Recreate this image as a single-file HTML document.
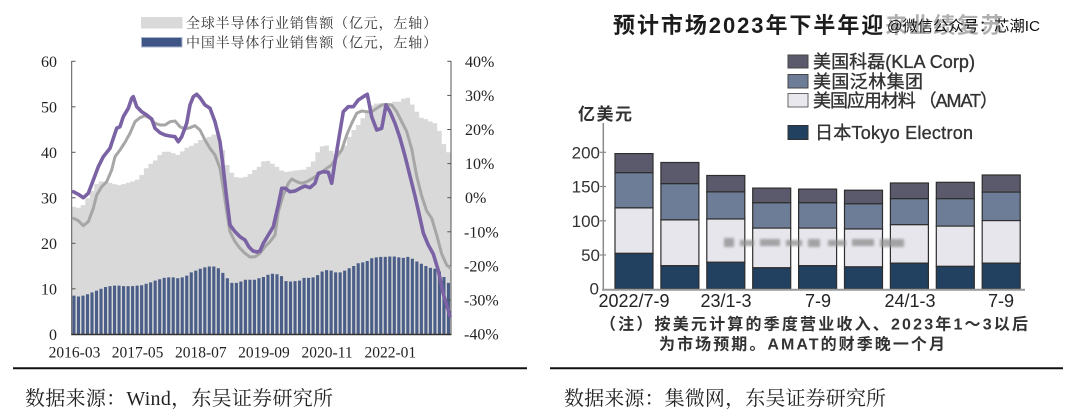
<!DOCTYPE html>
<html>
<head>
<meta charset="utf-8">
<style>
html,body{margin:0;padding:0;background:#fff;}
svg{display:block}
</style>
</head>
<body>
<svg width="1080" height="416" viewBox="0 0 1080 416" xmlns="http://www.w3.org/2000/svg">
<defs>
<filter id="soft" x="-5%" y="-5%" width="110%" height="110%"><feGaussianBlur stdDeviation="0.35"/></filter>
<filter id="blur2" x="-10%" y="-50%" width="120%" height="200%"><feGaussianBlur stdDeviation="1.2"/></filter>
</defs>
<rect x="0" y="0" width="1080" height="416" fill="#fff"/>

<!-- ================= LEFT CHART ================= -->
<g font-family="'Liberation Serif','Noto Serif CJK SC',serif">
<!-- legend -->
<rect x="141" y="17" width="41.5" height="11.5" fill="#d9d9d9"/>
<rect x="141.5" y="37.5" width="40.5" height="9.5" fill="#3e5586" stroke="#a9b5cc" stroke-width="1"/>
<text x="186" y="28" font-size="14" textLength="251" lengthAdjust="spacing" fill="#333">全球半导体行业销售额（亿元，左轴）</text>
<text x="186" y="47.5" font-size="14" textLength="251" lengthAdjust="spacing" fill="#333">中国半导体行业销售额（亿元，左轴）</text>

<!-- global area -->
<path fill="#d9d9d9" d="M71.7,334.3 V206.9 H76.21 V207.8 H80.72 V205.1 H85.24 V198.3 H89.75 V191 H94.26 V184.1 H98.77 V181.4 H103.28 V181.9 H107.8 V182.8 H112.31 V184.1 H116.82 V185.1 H121.33 V184.1 H125.84 V182.8 H130.36 V181.4 H134.87 V179.6 H139.38 V175 H143.89 V168.2 H148.4 V163.7 H152.92 V160.5 H157.43 V155 H161.94 V151.8 H166.45 V151.8 H170.96 V153.2 H175.48 V155 H179.99 V151.4 H184.5 V147.7 H189.01 V145.9 H193.52 V143.2 H198.04 V140 H202.55 V138.2 H207.06 V136.8 H211.57 V134.6 H216.08 V135 H220.6 V150 H225.11 V165 H229.62 V172.8 H234.13 V177.3 H238.64 V177.8 H243.16 V176.9 H247.67 V174.1 H252.18 V170 H256.69 V166.9 H261.2 V161.4 H265.72 V160.9 H270.23 V163.7 H274.74 V166.9 H279.25 V170.5 H283.76 V171.9 H288.28 V171.4 H292.79 V170.5 H297.3 V170 H301.81 V169.6 H306.32 V166.9 H310.84 V161.4 H315.35 V152.3 H319.86 V146.4 H324.37 V145.5 H328.88 V150.9 H333.4 V154.1 H337.91 V150 H342.42 V145.5 H346.93 V136.8 H351.44 V130 H355.96 V125 H360.47 V118.2 H364.98 V111.3 H369.49 V105.4 H374 V103.6 H378.52 V103.2 H383.03 V103.2 H387.54 V103.2 H392.05 V101.8 H396.56 V101.8 H401.08 V98.6 H405.59 V97.7 H410.1 V104.5 H414.61 V111.8 H419.12 V117.7 H423.64 V119.1 H428.15 V121.4 H432.66 V123.2 H437.17 V130.9 H441.68 V144.1 H446.2 V152.3 H450.71 V334.3 Z"/>

<!-- china bars -->
<path fill="#4a5e88" d="M72.4,334.3
v-38.7h3.1v38.7m1.412,0 v-37.8h3.1v37.8m1.412,0 v-38.7h3.1v38.7m1.412,0 v-40h3.1v40m1.412,0 v-41.9h3.1v41.9m1.412,0
v-43.7h3.1v43.7m1.412,0 v-45.5h3.1v45.5m1.412,0 v-47.3h3.1v47.3m1.412,0 v-48.2h3.1v48.2m1.412,0 v-48.7h3.1v48.7m1.412,0
v-48.7h3.1v48.7m1.412,0 v-48.2h3.1v48.2m1.412,0 v-48.2h3.1v48.2m1.412,0 v-48.2h3.1v48.2m1.412,0 v-48.7h3.1v48.7m1.412,0
v-49.1h3.1v49.1m1.412,0 v-50.5h3.1v50.5m1.412,0 v-51.9h3.1v51.9m1.412,0 v-53.7h3.1v53.7m1.412,0 v-55.1h3.1v55.1m1.412,0
v-56.4h3.1v56.4m1.412,0 v-56.9h3.1v56.9m1.412,0 v-56.9h3.1v56.9m1.412,0 v-56h3.1v56m1.412,0 v-56.9h3.1v56.9m1.412,0
v-58.7h3.1v58.7m1.412,0 v-61.9h3.1v61.9m1.412,0 v-63.7h3.1v63.7m1.412,0 v-65.5h3.1v65.5m1.412,0 v-66.9h3.1v66.9m1.412,0
v-67.8h3.1v67.8m1.412,0 v-67.8h3.1v67.8m1.412,0 v-66h3.1v66m1.412,0 v-61.4h3.1v61.4m1.412,0 v-56h3.1v56m1.412,0
v-51.4h3.1v51.4m1.412,0 v-51.4h3.1v51.4m1.412,0 v-52.8h3.1v52.8m1.412,0 v-54.6h3.1v54.6m1.412,0 v-54.6h3.1v54.6m1.412,0
v-54.6h3.1v54.6m1.412,0 v-56h3.1v56m1.412,0 v-57.3h3.1v57.3m1.412,0 v-59.6h3.1v59.6m1.412,0 v-60.5h3.1v60.5m1.412,0
v-60.1h3.1v60.1m1.412,0 v-58.2h3.1v58.2m1.412,0 v-53.2h3.1v53.2m1.412,0 v-52.8h3.1v52.8m1.412,0 v-53.2h3.1v53.2m1.412,0
v-53.7h3.1v53.7m1.412,0 v-56.4h3.1v56.4m1.412,0 v-56.4h3.1v56.4m1.412,0 v-56.9h3.1v56.9m1.412,0 v-59.2h3.1v59.2m1.412,0
v-62.8h3.1v62.8m1.412,0 v-64.2h3.1v64.2m1.412,0 v-63.7h3.1v63.7m1.412,0 v-61.9h3.1v61.9m1.412,0 v-61.9h3.1v61.9m1.412,0
v-63.7h3.1v63.7m1.412,0 v-66h3.1v66m1.412,0 v-68.3h3.1v68.3m1.412,0 v-71h3.1v71m1.412,0 v-71.9h3.1v71.9m1.412,0
v-73.3h3.1v73.3m1.412,0 v-76h3.1v76m1.412,0 v-76.9h3.1v76.9m1.412,0 v-77.4h3.1v77.4m1.412,0 v-77.4h3.1v77.4m1.412,0
v-77.8h3.1v77.8m1.412,0 v-77.8h3.1v77.8m1.412,0 v-76.9h3.1v76.9m1.412,0 v-76.4h3.1v76.4m1.412,0 v-77.4h3.1v77.4m1.412,0
v-75.5h3.1v75.5m1.412,0 v-72.8h3.1v72.8m1.412,0 v-70.5h3.1v70.5m1.412,0 v-68.3h3.1v68.3m1.412,0 v-66.4h3.1v66.4m1.412,0
v-65.5h3.1v65.5m1.412,0 v-62.8h3.1v62.8m1.412,0 v-57.3h3.1v57.3m1.412,0 v-51.4h3.1v51.4"/>

<!-- axes -->
<line x1="71.7" y1="61" x2="71.7" y2="334.3" stroke="#555" stroke-width="1"/>
<line x1="451" y1="61" x2="451" y2="334.3" stroke="#555" stroke-width="1"/>
<line x1="71.2" y1="334.5" x2="451.5" y2="334.5" stroke="#333" stroke-width="1.6"/>
<g stroke="#555" stroke-width="1">
<line x1="71.7" y1="61.3" x2="75.5" y2="61.3"/>
<line x1="71.7" y1="106.8" x2="75.5" y2="106.8"/>
<line x1="71.7" y1="152.3" x2="75.5" y2="152.3"/>
<line x1="71.7" y1="197.8" x2="75.5" y2="197.8"/>
<line x1="71.7" y1="243.3" x2="75.5" y2="243.3"/>
<line x1="71.7" y1="288.8" x2="75.5" y2="288.8"/>
<line x1="447.3" y1="61.3" x2="451" y2="61.3"/>
<line x1="447.3" y1="95.4" x2="451" y2="95.4"/>
<line x1="447.3" y1="129.5" x2="451" y2="129.5"/>
<line x1="447.3" y1="163.6" x2="451" y2="163.6"/>
<line x1="447.3" y1="197.7" x2="451" y2="197.7"/>
<line x1="447.3" y1="231.8" x2="451" y2="231.8"/>
<line x1="447.3" y1="265.9" x2="451" y2="265.9"/>
<line x1="447.3" y1="300" x2="451" y2="300"/>
</g>

<!-- lines -->
<polyline fill="none" stroke="#a6a6a6" stroke-width="3" stroke-linejoin="round" stroke-linecap="round" points="73.3,218.3 78.3,220.7 83.3,225.7 88.3,221.7 93.3,208.3 96.7,195 101.7,186.7 106.7,181.7 111.7,170 115,156.7 120,150 125,142.3 130,133.3 135,121.7 140,117.7 145,115.7 150,118.3 155,123.3 160,125 165,125 170,121.7 175,121 180,126.7 185,129 190,127.7 195,125.7 200,130 205,140 210,148.3 215,155 220,168.3 223.3,188.3 226.7,211.7 230,231.7 235,241.7 240,248.3 245,253.3 250,257 255,256.7 260,253.3 265,246.7 270,241.7 275,235 278.3,211.7 283.3,195 288.3,183.3 291.7,179 296.7,181.7 301.7,183.3 306.7,181.7 311.7,179 316.7,175.7 321.7,172.3 326.7,168.3 331.7,165 336.7,156.7 341.7,150 346.7,135 351.7,123.3 356.7,113.3 361.7,111 366.7,111.7 371.7,111.7 376.7,108.3 381.7,105 386.7,104.3 391.7,105 396.7,111.7 401.7,121.7 406.7,131.5 411.7,149 416.7,176 421.7,196 426.7,211 431.7,218.3 436.7,235 441.7,254 446.7,265 450.5,268.3"/>
<polyline fill="none" stroke="#7a62a4" stroke-width="3.6" stroke-linejoin="round" stroke-linecap="round" points="73.3,191.7 78.3,194.3 83.3,197.7 88.3,193.3 93.3,180 98.3,166.7 103.3,156.7 110,148.3 113.3,138.3 116.7,128.3 120,126.7 123.3,116.7 128.3,108.3 131.7,98.3 133.3,96.7 136.7,106.7 141.7,111.7 146.7,115 151.7,119 155,128.3 160,132.7 165,135 170,136 175,136.7 178.3,141.7 181.7,136.7 186.7,123.3 190,105 193.3,96.7 196.7,94.3 200,97.7 205,105 210,108.3 215,121.7 220,141.7 223.3,168.3 226.7,198.3 230,225 235,231.7 240,236.7 245,240 249,247 253,251 257,252 260,251 263.3,243.3 268.3,235 273.3,226.7 278.3,205 281.7,188.3 285,188.3 290,191.7 295,191 300,188.3 305,186 310,187.7 315,183.3 318.3,173.3 323.3,171.7 328.3,172.3 331.7,183.3 335,161.7 338.3,141.7 343.3,111.7 348.3,106.7 353.3,106.7 358.3,100 363.3,96.7 367.3,94.3 371.7,116.7 376.7,130 381.7,128.3 386,105 390,111.7 395,123.3 400,138 405,156 410,176 415,196 420,218 423.3,233 428.3,245 433.3,254 438.3,270.5 443.3,294 450,316"/>

<!-- left y labels -->
<g font-size="16" fill="#222" text-anchor="end">
<text x="57" y="66.8">60</text>
<text x="57" y="112.3">50</text>
<text x="57" y="157.8">40</text>
<text x="57" y="203.3">30</text>
<text x="57" y="248.8">20</text>
<text x="57" y="294.3">10</text>
<text x="57" y="339.8">0</text>
</g>
<!-- right y labels -->
<g font-size="16" fill="#222">
<text x="465" y="66.8">40%</text>
<text x="465" y="100.9">30%</text>
<text x="465" y="135">20%</text>
<text x="465" y="169.1">10%</text>
<text x="465" y="203.2">0%</text>
<text x="464" y="237.3">-10%</text>
<text x="464" y="271.4">-20%</text>
<text x="464" y="305.5">-30%</text>
<text x="464" y="339.6">-40%</text>
</g>
<!-- x labels -->
<g font-size="15.5" fill="#222" text-anchor="middle">
<text x="74.5" y="357.5">2016-03</text>
<text x="137.6" y="357.5">2017-05</text>
<text x="200.8" y="357.5">2018-07</text>
<text x="263.9" y="357.5">2019-09</text>
<text x="327.1" y="357.5">2020-11</text>
<text x="390.3" y="357.5">2022-01</text>
</g>

<line x1="13" y1="368.3" x2="527" y2="368.3" stroke="#111" stroke-width="2"/>
<text x="25" y="405" font-size="20" fill="#222" textLength="308" lengthAdjust="spacing">数据来源：Wind，东吴证券研究所</text>
</g>

<!-- ================= RIGHT CHART ================= -->
<g font-family="'Liberation Sans','Noto Sans CJK SC',sans-serif" filter="url(#soft)">
<!-- title -->
<text x="613" y="33" font-size="22" font-weight="bold" fill="#1c1c1c" textLength="390" lengthAdjust="spacing">预计市场2023年下半年迎来业绩复苏</text>

<!-- legend -->
<rect x="788" y="55" width="20" height="13" fill="#5a5a6c" stroke="#444" stroke-width="1"/>
<rect x="788" y="74.5" width="20" height="13.5" fill="#6d7d97" stroke="#444" stroke-width="1"/>
<rect x="788" y="93.5" width="20" height="13.5" fill="#e8e8ee" stroke="#666" stroke-width="1"/>
<rect x="788" y="125.5" width="20" height="14" fill="#21405e" stroke="#333" stroke-width="1"/>
<g font-size="18" fill="#333" stroke="#333" stroke-width="0.35">
<text x="813" y="68" textLength="162" lengthAdjust="spacing">美国科磊(KLA Corp)</text>
<text x="813" y="88" textLength="110" lengthAdjust="spacing">美国泛林集团</text>
<text x="813" y="107" textLength="185" lengthAdjust="spacing">美国应用材料 （AMAT）</text>
<text x="815" y="139" textLength="158" lengthAdjust="spacing">日本Tokyo Electron</text>
</g>

<text x="578" y="120" font-size="17" font-weight="bold" fill="#333" textLength="54" lengthAdjust="spacing">亿美元</text>

<!-- axes -->
<line x1="603.3" y1="123" x2="603.3" y2="289.5" stroke="#8a8a8a" stroke-width="1.5"/>
<g stroke="#8a8a8a" stroke-width="1.2">
<line x1="600" y1="152.3" x2="606" y2="152.3"/>
<line x1="600" y1="186.5" x2="606" y2="186.5"/>
<line x1="600" y1="220.8" x2="606" y2="220.8"/>
<line x1="600" y1="255" x2="606" y2="255"/>
</g>

<!-- bars -->
<g stroke="#2e2e2e" stroke-width="1.2">
<rect x="615" y="153.6" width="38" height="19.1" fill="#5a5a6c"/>
<rect x="615" y="172.7" width="38" height="35.2" fill="#6d7d97"/>
<rect x="615" y="207.9" width="38" height="45.5" fill="#e6e6ec"/>
<rect x="615" y="253.4" width="38" height="35.6" fill="#21405e"/>

<rect x="660.9" y="162.5" width="38" height="21.2" fill="#5a5a6c"/>
<rect x="660.9" y="183.7" width="38" height="36.2" fill="#6d7d97"/>
<rect x="660.9" y="219.9" width="38" height="45.8" fill="#e6e6ec"/>
<rect x="660.9" y="265.7" width="38" height="23.3" fill="#21405e"/>

<rect x="706.8" y="175.5" width="38" height="16.4" fill="#5a5a6c"/>
<rect x="706.8" y="191.9" width="38" height="27.1" fill="#6d7d97"/>
<rect x="706.8" y="219" width="38" height="43.3" fill="#e6e6ec"/>
<rect x="706.8" y="262.3" width="38" height="26.7" fill="#21405e"/>

<rect x="752.7" y="188.1" width="38" height="14.7" fill="#5a5a6c"/>
<rect x="752.7" y="202.8" width="38" height="25.3" fill="#6d7d97"/>
<rect x="752.7" y="228.1" width="38" height="39.7" fill="#e6e6ec"/>
<rect x="752.7" y="267.8" width="38" height="21.2" fill="#21405e"/>

<rect x="798.6" y="189.1" width="38" height="13.7" fill="#5a5a6c"/>
<rect x="798.6" y="202.8" width="38" height="25.3" fill="#6d7d97"/>
<rect x="798.6" y="228.1" width="38" height="37.6" fill="#e6e6ec"/>
<rect x="798.6" y="265.7" width="38" height="23.3" fill="#21405e"/>

<rect x="844.5" y="190.2" width="38" height="13.6" fill="#5a5a6c"/>
<rect x="844.5" y="203.8" width="38" height="25.2" fill="#6d7d97"/>
<rect x="844.5" y="229" width="38" height="37.9" fill="#e6e6ec"/>
<rect x="844.5" y="266.9" width="38" height="22.1" fill="#21405e"/>

<rect x="890.4" y="183" width="38" height="15.7" fill="#5a5a6c"/>
<rect x="890.4" y="198.7" width="38" height="26" fill="#6d7d97"/>
<rect x="890.4" y="224.7" width="38" height="38.5" fill="#e6e6ec"/>
<rect x="890.4" y="263.2" width="38" height="25.8" fill="#21405e"/>

<rect x="936.3" y="182.3" width="38" height="16.4" fill="#5a5a6c"/>
<rect x="936.3" y="198.7" width="38" height="27.4" fill="#6d7d97"/>
<rect x="936.3" y="226.1" width="38" height="40.3" fill="#e6e6ec"/>
<rect x="936.3" y="266.4" width="38" height="22.6" fill="#21405e"/>

<rect x="982.2" y="175" width="38" height="17.1" fill="#5a5a6c"/>
<rect x="982.2" y="192.1" width="38" height="28.5" fill="#6d7d97"/>
<rect x="982.2" y="220.6" width="38" height="42.6" fill="#e6e6ec"/>
<rect x="982.2" y="263.2" width="38" height="25.8" fill="#21405e"/>
</g>
<line x1="602" y1="289.8" x2="1025" y2="289.8" stroke="#999" stroke-width="2"/>

<!-- blurred mid watermark -->
<g filter="url(#blur2)" fill="#8c8c8c" opacity="0.75">
<rect x="724" y="238" width="10" height="9"/>
<rect x="740" y="240" width="14" height="6"/>
<rect x="760" y="239" width="20" height="7"/>
<rect x="786" y="240" width="16" height="6"/>
<rect x="808" y="239" width="12" height="8"/>
<rect x="828" y="240" width="18" height="6"/>
<rect x="852" y="239" width="22" height="7"/>
<rect x="880" y="239" width="24" height="8"/>
</g>

<!-- y labels -->
<g font-size="17" fill="#333" text-anchor="end">
<text x="600" y="158.4">200</text>
<text x="600" y="192.6">150</text>
<text x="600" y="226.9">100</text>
<text x="600" y="261.1">50</text>
<text x="599" y="294.5">0</text>
</g>
<!-- x labels -->
<g font-size="18" fill="#222" text-anchor="middle">
<text x="634" y="307">2022/7-9</text>
<text x="726" y="307">23/1-3</text>
<text x="818" y="307">7-9</text>
<text x="910" y="307">24/1-3</text>
<text x="1001" y="307">7-9</text>
</g>

<!-- note -->
<g font-size="16" font-weight="bold" fill="#333">
<text x="600" y="329.5" textLength="428" lengthAdjust="spacing">（注）按美元计算的季度营业收入、2023年1～3以后</text>
<text x="659" y="349.5" textLength="286" lengthAdjust="spacing">为市场预期。AMAT的财季晚一个月</text>
</g>
</g>

<!-- title watermark overlay -->
<rect x="885" y="13" width="157" height="25" fill="#fff" opacity="0.65"/>
<text x="887" y="31" font-size="15" fill="#111" textLength="153" lengthAdjust="spacingAndGlyphs" font-family="'Liberation Sans','Noto Sans CJK SC',sans-serif">@微信公众号：芯潮IC</text>

<line x1="550" y1="368.3" x2="1063" y2="368.3" stroke="#111" stroke-width="2"/>
<text x="564" y="405" font-size="20" fill="#222" textLength="322" lengthAdjust="spacing" font-family="'Liberation Serif','Noto Serif CJK SC',serif">数据来源：集微网，东吴证券研究所</text>
</svg>
</body>
</html>
